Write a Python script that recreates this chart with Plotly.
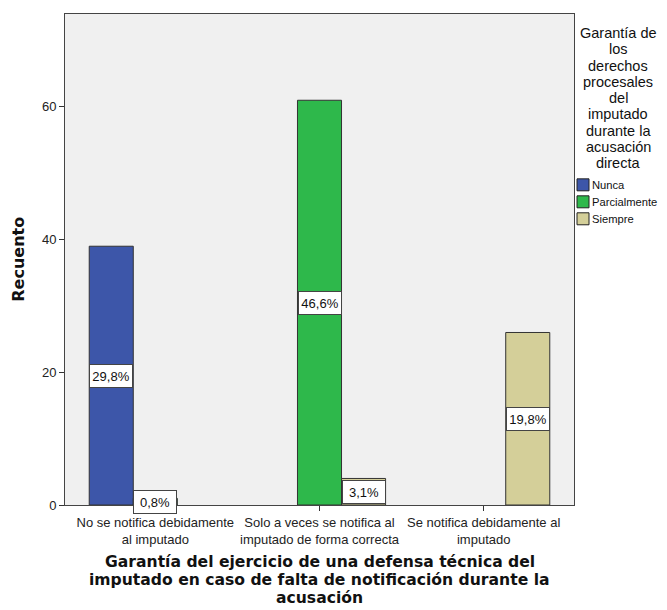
import plotly.graph_objects as go

categories = [
    "No se notifica debidamente<br>al imputado",
    "Solo a veces se notifica al<br>imputado de forma correcta",
    "Se notifica debidamente al<br>imputado",
]
series_names = ["Nunca", "Parcialmente", "Siempre"]
series_values = [
    [39, None, None],   # Nunca
    [1, 61, None],      # Parcialmente
    [None, 4, 26],      # Siempre
]
series_colors = ["#3D56A9", "#2EB84B", "#D4CF99"]
y_ticks = [0, 20, 40, 60]
x_title_lines = [
    "Garantía del ejercicio de una defensa técnica del",
    "imputado en caso de falta de notificación durante la",
    "acusación",
]
legend_title_lines = ["Garantía de", "los", "derechos", "procesales", "del",
                      "imputado", "durante la", "acusación", "directa"]
y_title = "Recuento"

total = sum(v for s in series_values for v in s if v is not None)

# the page body adds an 8px offset (and clips 8px on the right)
OFF = 8
W, H = 667 - 2 * OFF, 610 - OFF
ML, MT = 65 - OFF, 14 - OFF
MR = W - (574 - OFF)
MB = H - (505.5 - OFF)
PW, PH = W - ML - MR, H - MT - MB

def px_x(p):  # screen pixel -> paper x
    return (p - OFF - ML) / PW

def px_y(p):  # screen pixel -> paper y
    return (H - MB - (p - OFF)) / PH

FONT = "Liberation Sans, Arial, sans-serif"
BOLD = "DejaVu Sans, sans-serif"

fig = go.Figure()
for name, vals, col in zip(series_names, series_values, series_colors):
    fig.add_trace(go.Bar(
        name=name, x=list(range(len(categories))), y=vals,
        marker=dict(color=col, line=dict(color="#333333", width=1)),
        showlegend=False,
    ))

bargap = 0.195
slot = (1 - bargap) / len(series_names)
for j, vals in enumerate(series_values):
    for i, v in enumerate(vals):
        if v is None:
            continue
        pct = f"{100 * v / total:.1f}%".replace(".", ",")
        fig.add_annotation(
            x=i + (j - (len(series_names) - 1) / 2) * slot, y=v / 2,
            xref="x", yref="y", text=pct, showarrow=False,
            font=dict(family=FONT, size=13, color="#111"),
            bgcolor="white", bordercolor="#444", borderwidth=1, borderpad=1,
            width=40, height=20,
        )

# legend title (centered, tight line spacing)
for k, line in enumerate(legend_title_lines):
    fig.add_annotation(
        x=px_x(618), y=px_y(33 + k * 16.3), xref="paper", yref="paper",
        xanchor="center", yanchor="middle",
        text=line, showarrow=False,
        font=dict(family=FONT, size=14.5, color="#111"),
    )

# legend entries (swatch + label)
for k, (name, col) in enumerate(zip(series_names, series_colors)):
    yc = 185 + k * 17
    fig.add_shape(
        type="rect", xref="paper", yref="paper",
        x0=px_x(577), x1=px_x(589), y0=px_y(yc - 6), y1=px_y(yc + 6),
        fillcolor=col, line=dict(color="#222222", width=1),
    )
    fig.add_annotation(
        x=px_x(590), y=px_y(yc), xref="paper", yref="paper",
        xanchor="left", yanchor="middle", text=name, showarrow=False,
        font=dict(family=FONT, size=11.2, color="#111"),
    )

# x-axis title
for k, line in enumerate(x_title_lines):
    fig.add_annotation(
        x=0.5, y=px_y(563 + k * 18), xref="paper", yref="paper",
        xanchor="center", yanchor="middle",
        text=f"<b>{line}</b>", showarrow=False,
        font=dict(family=BOLD, size=15.6, color="#111"),
    )

# y-axis title
fig.add_annotation(
    x=px_x(19), y=px_y(260), xref="paper", yref="paper",
    xanchor="center", yanchor="middle", textangle=-90,
    text=f"<b>{y_title}</b>", showarrow=False,
    font=dict(family=BOLD, size=16, color="#111"),
)

fig.update_layout(
    width=W, height=H,
    margin=dict(l=ML, r=MR, t=MT, b=MB, autoexpand=False),
    paper_bgcolor="white", plot_bgcolor="#F0F0F0",
    barmode="group", bargap=bargap, bargroupgap=0,
    font=dict(family=FONT, size=13, color="#222"),
    showlegend=False,
)
fig.update_xaxes(
    range=[-0.55, 2.55], tickmode="array", automargin=False,
    tickvals=list(range(len(categories))), ticktext=categories,
    ticks="outside", ticklen=5, tickcolor="#333",
    showline=True, linecolor="#444", linewidth=1, mirror=True,
    showgrid=False, zeroline=False,
    tickfont=dict(family=FONT, size=13, color="#222"),
)
fig.update_yaxes(
    range=[0, 74], tickmode="array", tickvals=y_ticks, automargin=False,
    ticks="outside", ticklen=5, tickcolor="#333",
    showline=True, linecolor="#444", linewidth=1, mirror=True,
    showgrid=False, zeroline=False,
    tickfont=dict(family=FONT, size=13, color="#222"),
)

fig.write_html("out.html")
